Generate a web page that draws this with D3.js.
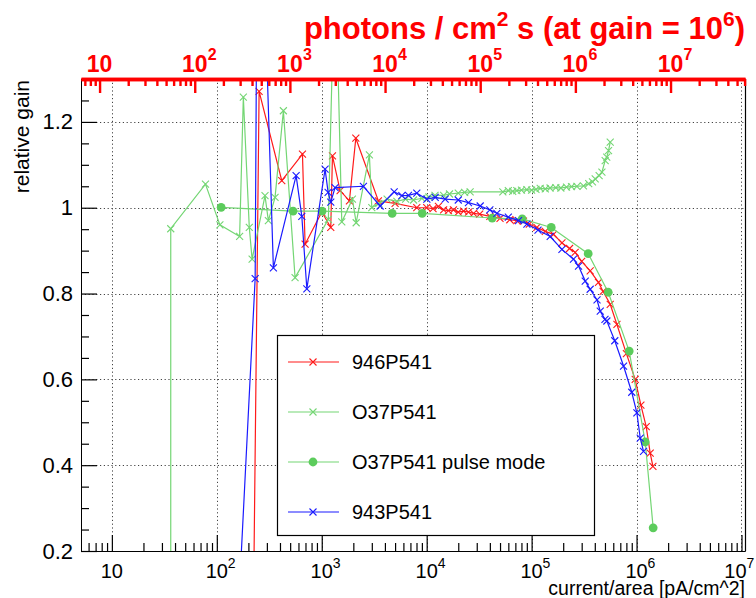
<!DOCTYPE html>
<html>
<head>
<meta charset="utf-8">
<script src="https://cdn.jsdelivr.net/npm/d3@7"></script>
<style>
  body { margin: 0; background: #fff; }
  text { font-family: "Liberation Sans", Arial, Helvetica, sans-serif; }
</style>
</head>
<body>
<svg id="chart" width="756" height="598"></svg>
<script>
// ---------- DATA (current/area in pA/cm^2, relative gain) ---------- //
const red946 = [
  [222, 0], [253, 1.271], [416, 1.063], [655, 1.125], [694, 0.915], [1002, 0.99],
  [1219, 0.954], [1265, 1.121], [1496, 1.04], [1835, 1.016], [2112, 1.162], [3467, 1.016],
  [5000, 1.01], [8050, 1.0], [10000, 1.0], [11500, 0.998], [12940, 1.003], [14500, 0.995],
  [16110, 0.993], [18000, 0.995], [20000, 0.99], [22500, 0.992], [25000, 0.99], [28000, 0.987],
  [32000, 0.985], [40000, 0.98], [50000, 0.975], [62000, 0.972], [72300, 0.97], [83560, 0.969],
  [95000, 0.962], [112200, 0.954], [135000, 0.945], [161500, 0.938], [194500, 0.918],
  [230000, 0.905], [260000, 0.896], [300000, 0.875], [361400, 0.853], [433600, 0.826],
  [480000, 0.805], [561000, 0.775], [650100, 0.728], [800000, 0.66], [970500, 0.6],
  [1.1e6, 0.54], [1.236e6, 0.49], [1.349e6, 0.428], [1.432e6, 0.397]
];

const green037 = [
  [36.4, 0.0], [36.4, 0.951], [78, 1.055], [107, 0.96], [165, 0.933], [179, 1.258],
  [204, 0.954], [217, 0.88], [288, 1.028], [310, 0.97], [359, 1.024], [431, 1.226],
  [557, 0.837], [1156, 0.973], [1340, 1.6], [1552, 0.967], [1960, 1.02], [2128, 0.965],
  [2845, 1.123], [3000, 1.0], [3500, 1.01], [4200, 1.02], [5200, 1.015], [6300, 1.02],
  [7500, 1.018], [9000, 1.022], [10500, 1.025], [12000, 1.029], [14500, 1.029], [16500, 1.032],
  [20000, 1.034], [23000, 1.036], [25940, 1.037], [53210, 1.037], [60000, 1.04], [66000, 1.038],
  [72300, 1.04], [80000, 1.041], [90000, 1.042], [100000, 1.041], [110000, 1.043],
  [120700, 1.045], [135000, 1.044], [150000, 1.046], [170000, 1.047], [190000, 1.046],
  [215000, 1.048], [240000, 1.049], [270000, 1.05], [311900, 1.051], [350000, 1.056],
  [380000, 1.06], [403600, 1.067], [440000, 1.075], [467700, 1.083], [502300, 1.11],
  [520000, 1.118], [540800, 1.133], [561000, 1.153]
];

const pulse037 = [
  [110, 1.001], [533, 0.992], [1007, 0.992], [4690, 0.987], [9060, 0.987], [42100, 0.976],
  [81300, 0.974], [153800, 0.954], [346000, 0.893], [537000, 0.803], [851000, 0.666],
  [1.21e6, 0.454], [1.44e6, 0.254]
];

const blue943 = [
  [156, 0], [232, 0.835], [247, 2.0], [346, 0.86], [570, 1.075], [646, 0.98], [721, 0.811],
  [1076, 1.09], [1150, 1.036], [1219, 1.013], [1340, 1.047], [2495, 1.05], [3600, 1.004],
  [4900, 1.037], [5800, 1.028], [6700, 1.029], [8050, 1.034], [10040, 1.02], [12050, 1.024],
  [15000, 1.02], [20000, 1.018], [25000, 1.012], [32360, 1.004], [40000, 0.995], [46670, 0.987],
  [60000, 0.978], [75000, 0.97], [90150, 0.962], [115000, 0.948], [150300, 0.933],
  [194500, 0.903], [250600, 0.88], [280000, 0.864], [324300, 0.829], [361400, 0.81],
  [420000, 0.785], [450800, 0.759], [500000, 0.74], [521200, 0.736], [620000, 0.69],
  [751600, 0.631], [900000, 0.57], [1.007e6, 0.522], [1.084e6, 0.463], [1.165e6, 0.432]
];

const legendLabels = ['946P541', 'O37P541', 'O37P541 pulse mode', '943P541'];
const yTickValues = [0.2, 0.4, 0.6, 0.8, 1.0, 1.2];
const bottomExponents = [1, 2, 3, 4, 5, 6, 7];
const topExponents = [1, 2, 3, 4, 5, 6, 7];

// ---------- LAYOUT ---------- //
const svg = d3.select('#chart');
const pL = 81, pR = 745, pT = 79, pB = 551;
const font = '"Liberation Sans", Arial, Helvetica, sans-serif';

const x = d3.scaleLog().domain([5.08, 1.08e7]).range([pL, pR]);
const xTop = d3.scaleLog().domain([6.38, 6.06e7]).range([pL, pR]);
const y = d3.scaleLinear().domain([0.2, 1.3]).range([pB, pT]);

function minorTicks(scale) {
  const [a, b] = scale.domain();
  const out = [];
  for (let e = 0; e <= 8; e++) {
    for (let m = 2; m <= 9; m++) {
      const v = m * Math.pow(10, e);
      if (v >= a && v <= b) out.push(v);
    }
  }
  return out;
}

svg.append('rect').attr('width', 756).attr('height', 598).attr('fill', '#fff');

// grid
const grid = svg.append('g').attr('stroke', '#444').attr('stroke-width', 1)
  .attr('stroke-dasharray', '1.2,2.6');
bottomExponents.forEach((e) => {
  const px = Math.round(x(Math.pow(10, e))) + 0.5;
  grid.append('line').attr('x1', px).attr('x2', px).attr('y1', pT).attr('y2', pB);
});
yTickValues.filter((v) => v > 0.3).forEach((v) => {
  const py = Math.round(y(v)) + 0.5;
  grid.append('line').attr('x1', pL).attr('x2', pR).attr('y1', py).attr('y2', py);
});

// ---------- DATA ---------- //
svg.append('clipPath').attr('id', 'plotClip')
  .append('rect').attr('x', pL).attr('y', pT).attr('width', pR - pL).attr('height', pB - pT);

const plot = svg.append('g').attr('clip-path', 'url(#plotClip)');
const line = d3.line().x((d) => x(d[0])).y((d) => y(d[1]));
const cross = 'M-3.5,-3.5L3.5,3.5M-3.5,3.5L3.5,-3.5';

const series = [
  { data: red946, color: '#ff1a1a', marker: 'x' },
  { data: green037, color: '#74d674', marker: 'x' },
  { data: pulse037, color: '#74d674', marker: 'o', fill: '#5ccc5c' },
  { data: blue943, color: '#1a1aff', marker: 'x' }
];

series.forEach((s) => {
  plot.append('path').attr('d', line(s.data)).attr('fill', 'none')
    .attr('stroke', s.color).attr('stroke-width', 1.2);
  s.data.forEach((d) => {
    if (s.marker === 'x') {
      plot.append('path').attr('d', cross)
        .attr('transform', `translate(${x(d[0])},${y(d[1])})`)
        .attr('stroke', s.color).attr('stroke-width', 1.1).attr('fill', 'none');
    } else {
      plot.append('circle').attr('cx', x(d[0])).attr('cy', y(d[1])).attr('r', 4.4)
        .attr('fill', s.fill);
    }
  });
});

// ---------- AXES ---------- //
// bottom
const gxMinor = svg.append('g').attr('transform', `translate(0,${pB})`)
  .call(d3.axisBottom(x).tickValues(minorTicks(x)).tickSizeInner(-8).tickSizeOuter(0).tickFormat(''));
const gxMajor = svg.append('g').attr('transform', `translate(0,${pB})`)
  .call(d3.axisBottom(x).tickValues(bottomExponents.map((e) => Math.pow(10, e)))
    .tickSizeInner(-16).tickSizeOuter(0).tickFormat(''));
[gxMinor, gxMajor].forEach((g) => g.attr('color', '#000').selectAll('line').attr('stroke-width', 1.2));

bottomExponents.forEach((e) => {
  const px = x(Math.pow(10, e)) - (e === 7 ? 6 : 0);
  svg.append('text').attr('x', px).attr('y', 578).attr('text-anchor', 'middle')
    .attr('font-size', 20).attr('fill', '#000').text('10');
  if (e > 1) {
    svg.append('text').attr('x', px + 11).attr('y', 568).attr('font-size', 14)
      .attr('fill', '#000').text(e);
  }
});

svg.append('text').attr('x', pR).attr('y', 595).attr('text-anchor', 'end')
  .attr('font-size', 19.5).attr('fill', '#000').text('current/area [pA/cm^2]');

// left
const yMinor = d3.range(0.25, 1.3001, 0.05).filter((v) => Math.abs(Math.round(v * 5) - v * 5) > 1e-6);
svg.append('g').attr('transform', `translate(${pL},0)`).attr('color', '#000')
  .call(d3.axisLeft(y).tickValues(yMinor).tickSizeInner(-8).tickSizeOuter(0).tickFormat(''))
  .selectAll('line').attr('stroke-width', 1.2);
const gy = svg.append('g').attr('transform', `translate(${pL},0)`).attr('color', '#000')
  .call(d3.axisLeft(y).tickValues(yTickValues).tickSizeInner(-16).tickSizeOuter(0)
    .tickPadding(8).tickFormat((d) => String(+d.toFixed(1))));
gy.selectAll('line').attr('stroke-width', 1.2);
gy.selectAll('text').attr('font-family', font).attr('font-size', 22).attr('fill', '#000');

svg.append('text').attr('transform', 'translate(29,80) rotate(-90)').attr('text-anchor', 'end')
  .attr('font-size', 21).attr('fill', '#000').text('relative gain');

// right frame
svg.append('line').attr('x1', pR + 0.5).attr('x2', pR + 0.5).attr('y1', pT).attr('y2', pB)
  .attr('stroke', '#000').attr('stroke-width', 1.2);

// top (photons)
const red = '#ff0000';
const gtMinor = svg.append('g').attr('transform', `translate(0,${pT})`).attr('color', red)
  .call(d3.axisTop(xTop).tickValues(minorTicks(xTop)).tickSizeInner(-7).tickSizeOuter(0).tickFormat(''));
const gtMajor = svg.append('g').attr('transform', `translate(0,${pT})`).attr('color', red)
  .call(d3.axisTop(xTop).tickValues(topExponents.map((e) => Math.pow(10, e)))
    .tickSizeInner(-14).tickSizeOuter(0).tickFormat(''));
[gtMinor, gtMajor].forEach((g) => {
  g.selectAll('line').attr('stroke-width', 2.4);
  g.select('.domain').attr('stroke-width', 3.5);
});

topExponents.forEach((e) => {
  const px = xTop(Math.pow(10, e));
  svg.append('text').attr('x', px).attr('y', 72).attr('text-anchor', 'middle')
    .attr('font-size', 23).attr('font-weight', 'bold').attr('fill', red).text('10');
  if (e > 1) {
    svg.append('text').attr('x', px + 13).attr('y', 60).attr('font-size', 16)
      .attr('font-weight', 'bold').attr('fill', red).text(e);
  }
});

const title = svg.append('text').attr('x', pR).attr('y', 39).attr('text-anchor', 'end')
  .attr('font-size', 31).attr('font-weight', 'bold').attr('fill', red);
title.append('tspan').text('photons / cm');
title.append('tspan').attr('dy', -13).attr('font-size', 21).text('2');
title.append('tspan').attr('dy', 13).text(' s (at gain = 10');
title.append('tspan').attr('dy', -13).attr('font-size', 21).text('6');
title.append('tspan').attr('dy', 13).text(')');

// ---------- LEGEND ---------- //
const lg = svg.append('g');
lg.append('rect').attr('x', 277.5).attr('y', 335.5).attr('width', 317).attr('height', 200)
  .attr('fill', '#fff').attr('stroke', '#000').attr('stroke-width', 1.2);
series.forEach((s, i) => {
  const cy = 362 + i * 50;
  lg.append('line').attr('x1', 288).attr('x2', 339).attr('y1', cy).attr('y2', cy)
    .attr('stroke', s.color).attr('stroke-width', 1.2);
  if (s.marker === 'x') {
    lg.append('path').attr('d', cross).attr('transform', `translate(313,${cy})`)
      .attr('stroke', s.color).attr('stroke-width', 1.1).attr('fill', 'none');
  } else {
    lg.append('circle').attr('cx', 313).attr('cy', cy).attr('r', 4.4).attr('fill', s.fill);
  }
  lg.append('text').attr('x', 352).attr('y', cy + 7).attr('font-size', 20).attr('fill', '#000')
    .text(legendLabels[i]);
});
</script>
</body>
</html>
